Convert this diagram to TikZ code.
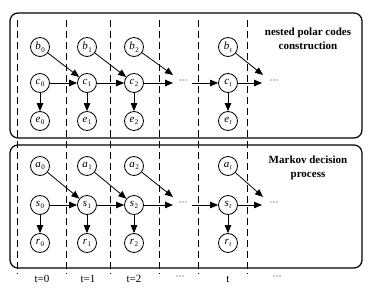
\documentclass[tikz,border=0pt]{standalone}
\usepackage{fontspec}
\setmainfont{Liberation Serif}
\usetikzlibrary{arrows.meta}
\newcommand{\vr}[2]{\textit{#1}\kern0.5pt\raisebox{-0.5ex}{\fontsize{7}{7}\selectfont #2}}
\begin{document}
\begin{tikzpicture}[x=1pt,y=-1pt,
  var/.style={circle, draw, line width=0.8pt, minimum size=19pt, inner sep=0pt, font=\fontsize{11}{11}\selectfont},
  arr/.style={-{Triangle[length=8pt,width=6.5pt]}, line width=0.8pt},
  frame/.style={draw, line width=1.2pt, rounded corners=8pt},
  vline/.style={line width=0.8pt, dash pattern=on 7pt off 4pt},
  dots/.style={inner sep=0pt, font=\fontsize{9}{9}\selectfont},
  lab/.style={inner sep=0pt, font=\fontsize{11}{11}\selectfont},
  title/.style={align=center, font=\fontsize{11}{14}\selectfont\bfseries}]
\useasboundingbox (0,0) rectangle (375,297);
% frames
\draw[frame] (10,13) rectangle (362,138);
\draw[frame] (10,145) rectangle (362,268);
% dashed separators
\foreach \x in {17,66,110,159,198,247}
  \draw[vline] (\x,20) -- (\x,274);
% top row nodes
\node[var] (b0) at (40,47) {\vr{b}{0}};
\node[var] (b1) at (87,47) {\vr{b}{1}};
\node[var] (b2) at (134,47) {\vr{b}{2}};
\node[var] (bt) at (228,47) {\vr{b}{\textit{t}}};
\node[var] (c0) at (40,83) {\vr{c}{0}};
\node[var] (c1) at (87,83) {\vr{c}{1}};
\node[var] (c2) at (134,83) {\vr{c}{2}};
\node[var] (ct) at (228,83) {\vr{c}{\textit{t}}};
\node[var] (e0) at (40,121) {\vr{e}{0}};
\node[var] (e1) at (87,121) {\vr{e}{1}};
\node[var] (e2) at (134,121) {\vr{e}{2}};
\node[var] (et) at (228,121) {\vr{e}{\textit{t}}};
\node[dots] (d1) at (183,82) {···};
\node[dots] (d2) at (274,82) {···};
\coordinate (p1) at (173,83);
\coordinate (q1) at (173,75);
\coordinate (s1) at (192,83);
\coordinate (p2) at (262,83);
\coordinate (q2) at (263,75);
\draw[arr] (c0) -- (c1);
\draw[arr] (c1) -- (c2);
\draw[arr] (c2) -- (p1);
\draw[arr] (s1) -- (ct);
\draw[arr] (ct) -- (p2);
\draw[arr] (b0) -- (c1);
\draw[arr] (b1) -- (c2);
\draw[arr] (b2) -- (q1);
\draw[arr] (bt) -- (q2);
\draw[arr] (c0) -- (e0);
\draw[arr] (c1) -- (e1);
\draw[arr] (c2) -- (e2);
\draw[arr] (ct) -- (et);
\node[title] (t1) at (308,39) {nested polar codes\\construction};
% bottom row nodes
\node[var] (a0) at (40,166) {\vr{a}{0}};
\node[var] (a1) at (87,166) {\vr{a}{1}};
\node[var] (a2) at (134,166) {\vr{a}{2}};
\node[var] (at) at (228,166) {\vr{a}{\textit{t}}};
\node[var] (s0) at (40,205) {\vr{s}{0}};
\node[var] (s1n) at (87,205) {\vr{s}{1}};
\node[var] (s2) at (134,205) {\vr{s}{2}};
\node[var] (st) at (228,205) {\vr{s}{\textit{t}}};
\node[var] (r0) at (40,243) {\vr{r}{0}};
\node[var] (r1) at (87,243) {\vr{r}{1}};
\node[var] (r2) at (134,243) {\vr{r}{2}};
\node[var] (rt) at (228,243) {\vr{r}{\textit{t}}};
\node[dots] (d3) at (183,204) {···};
\node[dots] (d4) at (274,204) {···};
\coordinate (p3) at (173,205);
\coordinate (q3) at (173,197);
\coordinate (s3) at (192,205);
\coordinate (p4) at (262,205);
\coordinate (q4) at (263,197);
\draw[arr] (s0) -- (s1n);
\draw[arr] (s1n) -- (s2);
\draw[arr] (s2) -- (p3);
\draw[arr] (s3) -- (st);
\draw[arr] (st) -- (p4);
\draw[arr] (a0) -- (s1n);
\draw[arr] (a1) -- (s2);
\draw[arr] (a2) -- (q3);
\draw[arr] (at) -- (q4);
\draw[arr] (s0) -- (r0);
\draw[arr] (s1n) -- (r1);
\draw[arr] (s2) -- (r2);
\draw[arr] (st) -- (rt);
\node[title] (t2) at (308,168) {Markov decision\\process};
% time labels
\node[lab] (l0) at (42,279) {t=0};
\node[lab] (l1) at (88,279) {t=1};
\node[lab] (l2) at (134,279) {t=2};
\node[dots] (l3) at (180,278) {···};
\node[lab] (l4) at (228,279) {t};
\node[dots] (l5) at (277,278) {···};
\end{tikzpicture}
\end{document}
